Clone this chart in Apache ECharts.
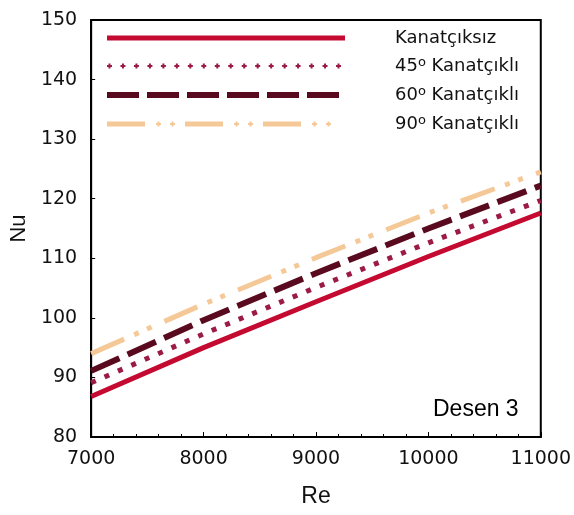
<!DOCTYPE html>
<html>
<head>
<meta charset="utf-8">
<script src="https://cdn.jsdelivr.net/npm/echarts@6/dist/echarts.min.js"></script>
<style>
html, body { margin: 0; padding: 0; background: #fff; }
#chart { width: 574px; height: 515px; }
</style>
</head>
<body>
<div id="chart"></div>
<script>
// Re (x) and Nu readings for each fin configuration
var reValues = [7000, 8000, 9000, 10000, 11000];
var nuKanatciksiz = [86.8, 95.0, 102.7, 110.3, 117.6];
var nu45 = [89.1, 97.3, 105.1, 112.6, 119.7];
var nu60 = [91.1, 99.6, 107.5, 115.0, 122.2];
var nu90 = [94.0, 102.3, 110.1, 117.6, 124.5];
var seriesNames = ['Kanatçıksız', '45o Kanatçıklı', '60o Kanatçıklı', '90o Kanatçıklı'];
var colors = ['#C50A32', '#9B1B45', '#5A0A1E', '#F5C898'];

function pairs(ys) {
	return reValues.map(function(x, i) { return [x, ys[i]]; });
}

// legend icon shapes (238 x 8 box)
function rect(x, y, w, h) {
	return 'M' + x + ' ' + y + 'h' + w + 'v' + h + 'h' + (-w) + 'Z';
}
function plus(cx) {
	return rect(cx - 2.5, 3, 5, 2) + rect(cx - 1, 1.5, 2, 5);
}
function icon(body) {
	return 'path://M0 0M238 8' + body;
}
var iconSolid = icon(rect(0, 1.5, 238, 5));
var iconPlus = '', iconDash = '', iconDashDot = '';
for (var k = 0; k < 18; k++) iconPlus += plus(2 + 13.5 * k);
for (var k = 0; k < 6; k++) iconDash += rect(40 * k, 1, 32, 6);
for (var k = 0; k < 3; k++) {
	iconDashDot += rect(78 * k, 1.5, 38, 5) + plus(78 * k + 51.5) + plus(78 * k + 65.5);
}
iconPlus = icon(iconPlus);
iconDash = icon(iconDash);
iconDashDot = icon(iconDashDot);

var font = 'Liberation Sans, Arial, sans-serif';
var numFont = 'DejaVu Sans, sans-serif';
var myChart = echarts.init(document.getElementById('chart'));
var option = {
	animation : false,
	backgroundColor : '#fff',
	grid : {
		left : 88,
		right : 30,
		top : 20,
		bottom : 78,
		show : true,
		borderColor : '#000',
		borderWidth : 2
	},
	legend : {
		orient : 'vertical',
		left : 102,
		top : 23,
		itemWidth : 238,
		itemHeight : 8,
		itemGap : 8,
		itemStyle : { borderWidth : 0 },
		formatter : function(name) {
			var m = name.match(/^(\d+)o (.*)$/);
			if (!m) return '{n|' + name + '}';
			return '{n|' + m[1] + '}{s|o}{n| ' + m[2] + '}';
		},
		textStyle : {
			fontFamily : numFont,
			fontSize : 18,
			lineHeight : 20,
			color : '#111',
			padding : [ 0, 0, 0, 45 ],
			rich : {
				n : { fontFamily : numFont, fontSize : 18, lineHeight : 20, color : '#111' },
				s : { fontFamily : numFont, fontSize : 13, lineHeight : 20, color : '#111', verticalAlign : 'top', padding : [ 0, 0, 8, 0 ] }
			}
		},
		data : [
			{ name : seriesNames[0], icon : iconSolid },
			{ name : seriesNames[1], icon : iconPlus },
			{ name : seriesNames[2], icon : iconDash },
			{ name : seriesNames[3], icon : iconDashDot }
		]
	},
	graphic : [ {
		type : 'text',
		style : {
			text : 'Desen 3',
			x : 433,
			y : 410,
			verticalAlign : 'middle',
			font : '23px ' + font,
			fill : '#000'
		}
	} ],
	xAxis : {
		type : 'value',
		min : 7000,
		max : 11000,
		interval : 1000,
		name : 'Re',
		nameLocation : 'middle',
		nameGap : 48,
		nameTextStyle : { fontFamily : font, fontSize : 23, color : '#111' },
		axisLine : { lineStyle : { color : '#000', width : 2 } },
		axisTick : { inside : true, length : 5, lineStyle : { color : '#000' } },
		minorTick : { show : true, splitNumber : 5, length : 3, lineStyle : { color : '#000' } },
		axisLabel : { fontFamily : numFont, fontSize : 19, color : '#111', margin : 13,
			formatter : function(v) { return String(v); } },
		splitLine : { show : false }
	},
	yAxis : {
		type : 'value',
		min : 80,
		max : 150,
		interval : 10,
		name : 'Nu',
		nameLocation : 'middle',
		nameGap : 59,
		nameTextStyle : { fontFamily : font, fontSize : 22, color : '#111' },
		axisLine : { show : true, lineStyle : { color : '#000', width : 2 } },
		axisTick : { show : true, inside : true, length : 4, lineStyle : { color : '#000' } },
		axisLabel : { fontFamily : numFont, fontSize : 19, color : '#111', margin : 14 },
		splitLine : { show : false }
	},
	series : [ {
		name : seriesNames[0],
		type : 'line',
		symbol : 'none',
		lineStyle : { color : colors[0], width : 5 },
		itemStyle : { color : colors[0] },
		data : pairs(nuKanatciksiz)
	}, {
		name : seriesNames[1],
		type : 'line',
		symbol : 'none',
		lineStyle : { color : colors[1], width : 5, type : [ 5, 9.6 ], cap : 'butt' },
		itemStyle : { color : colors[1] },
		data : pairs(nu45)
	}, {
		name : seriesNames[2],
		type : 'line',
		symbol : 'none',
		lineStyle : { color : colors[2], width : 6, type : [ 31, 9 ], cap : 'butt' },
		itemStyle : { color : colors[2] },
		data : pairs(nu60)
	}, {
		name : seriesNames[3],
		type : 'line',
		symbol : 'none',
		lineStyle : { color : colors[3], width : 5, type : [ 36, 11, 5, 9, 5, 14 ], cap : 'butt' },
		itemStyle : { color : colors[3] },
		data : pairs(nu90)
	} ]
};
myChart.setOption(option);
</script>
</body>
</html>
